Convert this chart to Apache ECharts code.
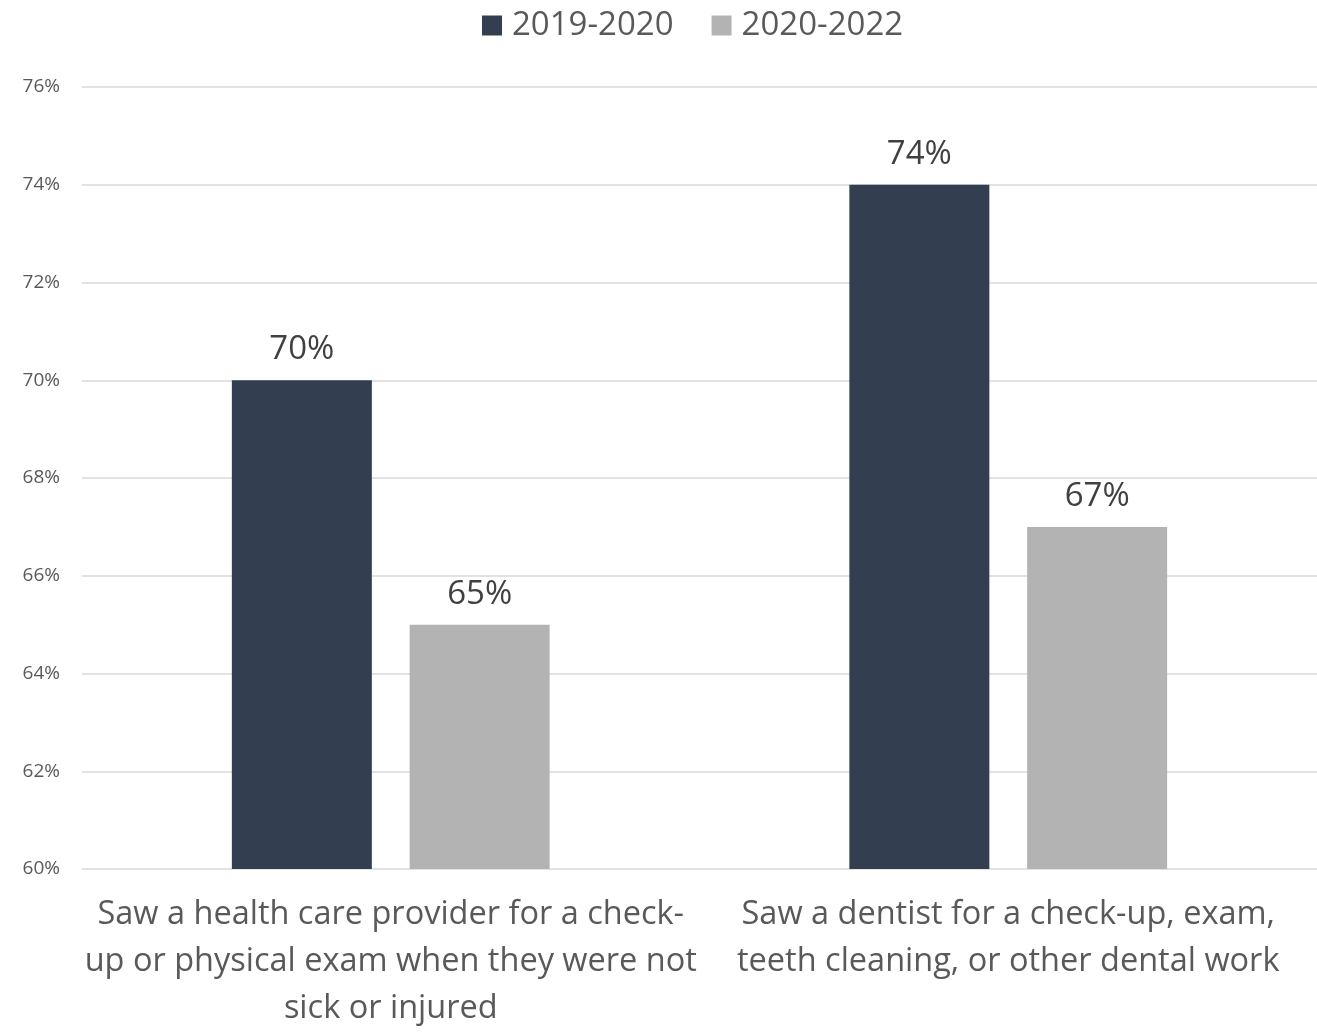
<!DOCTYPE html>
<html>
<head>
<meta charset="utf-8">
<script src="https://cdn.jsdelivr.net/npm/echarts@6/dist/echarts.min.js"></script>
<style>
  html, body { margin: 0; padding: 0; background: #ffffff; }
  #chart { width: 1317px; height: 1032px; }
</style>
</head>
<body>
<div id="chart"></div>
<script>
// Categories (line breaks are part of the drawn labels)
const categories = [
  'Saw a health care provider for a check-\nup or physical exam when they were not\nsick or injured',
  'Saw a dentist for a check-up, exam,\nteeth cleaning, or other dental work'
];
const seriesNames = ['2019-2020', '2020-2022'];
const values2019 = [70, 74];
const values2020 = [65, 67];
const colors = ['#333f50', '#b3b3b3'];

const font = '"Open Sans", "Noto Sans", sans-serif';

const chart = echarts.init(document.getElementById('chart'));
chart.setOption({
  animation: false,
  backgroundColor: '#ffffff',
  textStyle: { fontFamily: font },
  legend: {
    top: 4,
    left: 477,
    itemWidth: 20,
    itemHeight: 20,
    itemGap: 38,
    icon: 'rect',
    textStyle: { fontSize: 33, color: '#595959', fontFamily: font, padding: [0, 0, 0, 5] },
    data: seriesNames
  },
  grid: { left: 82, top: 87, width: 1253, height: 788, containLabel: false },
  xAxis: {
    type: 'category',
    data: categories,
    axisLine: { show: false },
    axisTick: { show: false },
    axisLabel: {
      interval: 0,
      margin: 22,
      fontSize: 32.5,
      lineHeight: 47,
      color: '#595959',
      fontFamily: font,
      align: 'center'
    }
  },
  yAxis: {
    type: 'value',
    min: 60,
    max: 76,
    interval: 2,
    axisLine: { show: false },
    axisTick: { show: false },
    splitLine: { lineStyle: { color: '#d9d9d9', width: 1.5 } },
    axisLabel: {
      margin: 22,
      fontSize: 19,
      color: '#595959',
      fontFamily: font,
      formatter: v => v + '%'
    }
  },
  series: [
    {
      name: seriesNames[0],
      type: 'bar',
      data: values2019,
      barWidth: 140,
      barGap: '27%',
      itemStyle: { color: colors[0] },
      label: {
        show: true, position: 'top', distance: 14,
        fontSize: 33, color: '#404040', fontFamily: font,
        formatter: p => p.value + '%'
      }
    },
    {
      name: seriesNames[1],
      type: 'bar',
      data: values2020,
      barWidth: 140,
      barGap: '27%',
      itemStyle: { color: colors[1] },
      label: {
        show: true, position: 'top', distance: 14,
        fontSize: 33, color: '#404040', fontFamily: font,
        formatter: p => p.value + '%'
      }
    }
  ]
});
</script>
</body>
</html>
